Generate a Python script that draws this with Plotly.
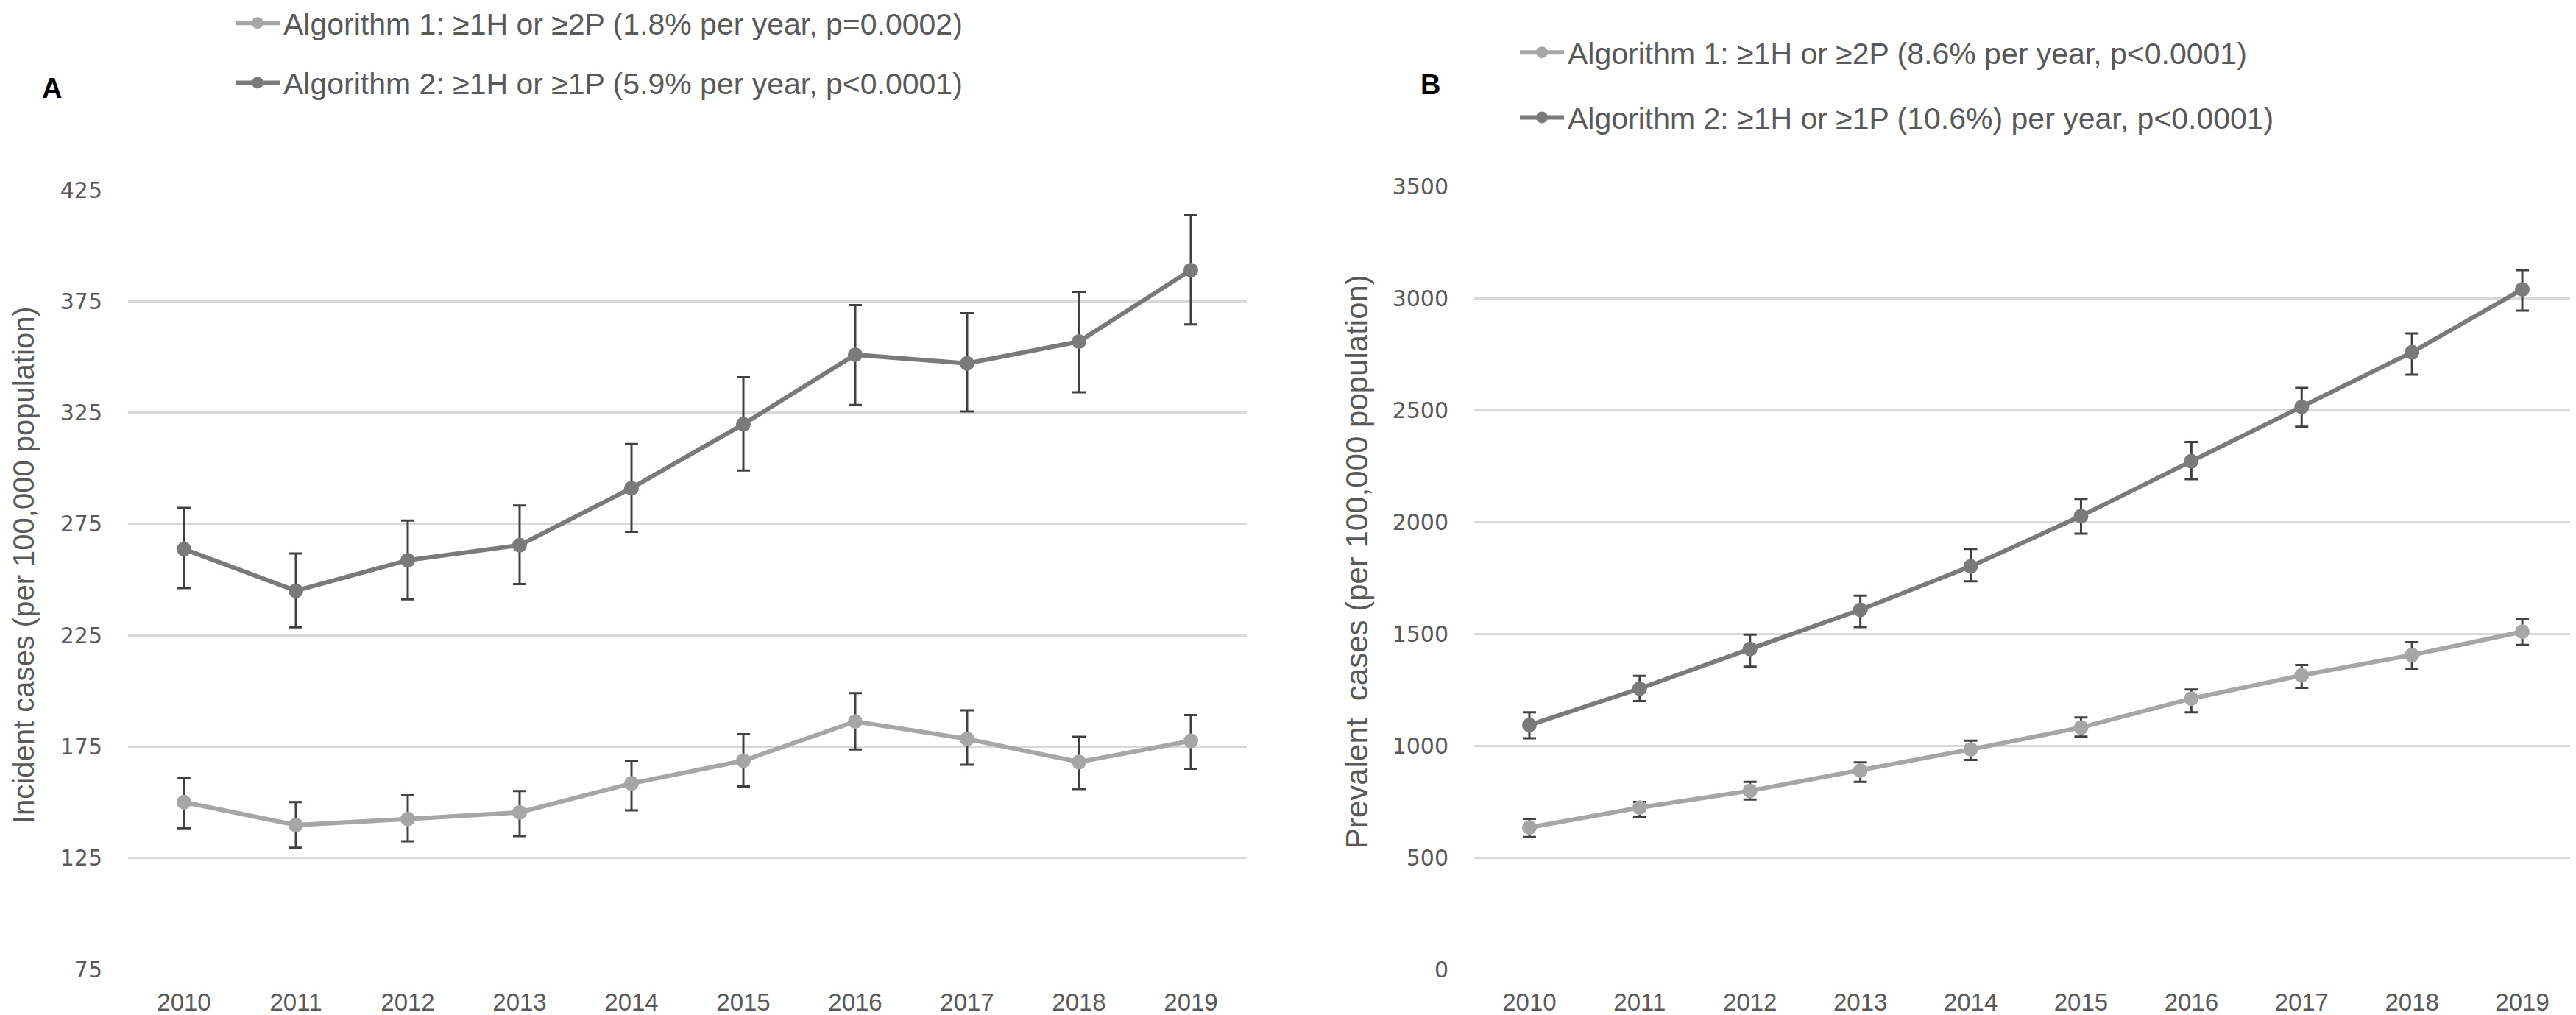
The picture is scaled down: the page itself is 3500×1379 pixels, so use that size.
import plotly.graph_objects as go

years = ["2010", "2011", "2012", "2013", "2014", "2015", "2016", "2017", "2018", "2019"]

# Panel A: incident cases (per 100,000 population)
inc_alg1 = [150.1, 139.8, 142.5, 145.5, 158.5, 168.7, 186.3, 178.5, 168.1, 177.6]
inc_alg1_hi = [160.8, 150.1, 153.2, 155.1, 168.7, 180.6, 199.0, 191.3, 179.4, 189.2]
inc_alg1_lo = [138.4, 129.6, 132.5, 134.8, 146.4, 157.1, 173.7, 166.9, 156.0, 165.1]
inc_alg2 = [263.7, 245.0, 258.7, 265.5, 291.1, 319.8, 351.0, 347.1, 356.9, 389.0]
inc_alg2_hi = [282.2, 261.7, 276.5, 283.3, 310.9, 340.9, 373.3, 369.6, 379.2, 413.6]
inc_alg2_lo = [246.2, 228.6, 241.2, 248.0, 271.5, 299.0, 328.4, 325.5, 334.1, 364.6]

# Panel B: prevalent cases (per 100,000 population)
prev_alg1 = [634, 723, 798, 888, 983, 1081, 1210, 1314, 1405, 1509]
prev_alg1_hi = [673, 748, 838, 925, 1022, 1126, 1251, 1360, 1462, 1566]
prev_alg1_lo = [591, 682, 759, 838, 936, 1040, 1149, 1258, 1344, 1450]
prev_alg2 = [1092, 1255, 1432, 1607, 1801, 2026, 2271, 2513, 2758, 3039]
prev_alg2_hi = [1149, 1312, 1496, 1670, 1879, 2103, 2357, 2599, 2842, 3125]
prev_alg2_lo = [1033, 1199, 1353, 1530, 1734, 1947, 2191, 2425, 2658, 2944]

names_a = ["Algorithm 1: ≥1H or ≥2P (1.8% per year, p=0.0002)",
           "Algorithm 2: ≥1H or ≥1P (5.9% per year, p<0.0001)"]
names_b = ["Algorithm 1: ≥1H or ≥2P (8.6% per year, p<0.0001)",
           "Algorithm 2: ≥1H or ≥1P (10.6%) per year, p<0.0001)"]

ytitle_a = "Incident cases (per 100,000 population)"
ytitle_b = "Prevalent\u00a0 cases (per 100,000 population)"

C1 = "#A6A6A6"
C2 = "#7A7A7A"
ERR = "#404040"
TXT = "#595959"
SANS = "Liberation Sans, Arial, sans-serif"

W, H = 3500, 1379


def trace(y, hi, lo, color, name, xa, ya, legend, group):
    return go.Scatter(
        x=years, y=y, name=name, mode="lines+markers",
        line=dict(color=color, width=6),
        marker=dict(color=color, size=20, symbol="circle"),
        error_y=dict(type="data", symmetric=False,
                     array=[h - v for h, v in zip(hi, y)],
                     arrayminus=[v - l for v, l in zip(y, lo)],
                     color=ERR, thickness=3, width=9),
        xaxis=xa, yaxis=ya, legend=legend, legendgroup=group,
    )


fig = go.Figure()
fig.add_trace(trace(inc_alg1, inc_alg1_hi, inc_alg1_lo, C1, names_a[0], "x", "y", "legend", "a1"))
fig.add_trace(trace(inc_alg2, inc_alg2_hi, inc_alg2_lo, C2, names_a[1], "x", "y", "legend", "a2"))
fig.add_trace(trace(prev_alg1, prev_alg1_hi, prev_alg1_lo, C1, names_b[0], "x2", "y2", "legend2", "b1"))
fig.add_trace(trace(prev_alg2, prev_alg2_hi, prev_alg2_lo, C2, names_b[1], "x2", "y2", "legend2", "b2"))

xcommon = dict(type="category", range=[-0.5, 9.5], showgrid=False, zeroline=False,
               showline=False, ticks="", ticklabelstandoff=22,
               tickfont=dict(family=SANS, size=33, color=TXT))
ycommon = dict(showgrid=True, gridcolor="#D9D9D9", gridwidth=3, zeroline=False,
               showline=False, ticks="", ticklabelstandoff=34,
               tickfont=dict(family="DejaVu Sans", size=30, color=TXT))

legfont = dict(family=SANS, size=41, color=TXT)

fig.update_layout(
    width=W, height=H,
    margin=dict(l=0, r=0, t=0, b=0, autoexpand=False),
    paper_bgcolor="white", plot_bgcolor="white",
    showlegend=True,
    xaxis=dict(domain=[166 / W, 1686 / W], anchor="y", **xcommon),
    yaxis=dict(domain=[1 - 1309 / H, 1 - 250 / H], anchor="x", range=[75, 425],
               tickvals=[75, 125, 175, 225, 275, 325, 375, 425], **ycommon),
    xaxis2=dict(domain=[1995 / W, 3494 / W], anchor="y2", **xcommon),
    yaxis2=dict(domain=[1 - 1309 / H, 1 - 245 / H], anchor="x2", range=[0, 3500],
                dtick=500, **ycommon),
    legend=dict(x=307 / W, xanchor="left", y=1 + 10 / H, yanchor="top",
                font=legfont, traceorder="grouped", tracegroupgap=25,
                bgcolor="rgba(0,0,0,0)", itemwidth=60),
    legend2=dict(x=2052 / W, xanchor="left", y=1 - 30 / H, yanchor="top",
                 font=legfont, traceorder="grouped", tracegroupgap=32,
                 bgcolor="rgba(0,0,0,0)", itemwidth=60),
    annotations=[
        dict(text="<b>A</b>", x=62 / W, y=1 - 112 / H, xref="paper", yref="paper",
             xanchor="center", yanchor="middle",
             showarrow=False, font=dict(family=SANS, size=38, color="black")),
        dict(text="<b>B</b>", x=1935 / W, y=1 - 107 / H, xref="paper", yref="paper",
             xanchor="center", yanchor="middle",
             showarrow=False, font=dict(family=SANS, size=38, color="black")),
        dict(text=ytitle_a, x=24 / W, y=1 - 760 / H, xref="paper", yref="paper",
             xanchor="center", yanchor="middle",
             showarrow=False, textangle=-90, font=dict(family=SANS, size=40, color=TXT)),
        dict(text=ytitle_b, x=1835 / W, y=1 - 755 / H, xref="paper", yref="paper",
             xanchor="center", yanchor="middle",
             showarrow=False, textangle=-90, font=dict(family=SANS, size=42, color=TXT)),
    ],
)

fig.write_html("out.html")
